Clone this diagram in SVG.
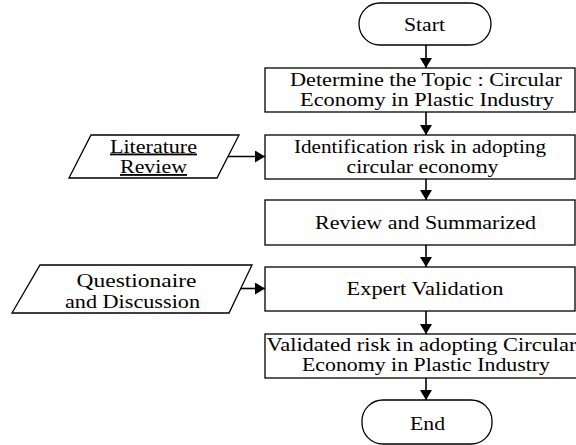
<svg xmlns="http://www.w3.org/2000/svg" width="576" height="445" viewBox="0 0 576 445">
<defs>
<style>
.shape{fill:#fff;stroke:#000;stroke-width:1.3}
.t{font-family:"Liberation Serif","Times New Roman",serif;font-size:18.5px;fill:#000;text-anchor:middle}
.u{text-decoration:underline}
.conn{stroke:#000;stroke-width:1.6;fill:none}
</style>
<marker id="ah" markerUnits="userSpaceOnUse" markerWidth="12" markerHeight="12" refX="10" refY="6" orient="auto">
<path d="M0,0 L10,6 L0,12 Z" fill="#000"/>
</marker>
</defs>
<rect width="576" height="445" fill="#fff"/>
<g id="connectors">
<line class="conn" x1="426" y1="45" x2="426" y2="68" marker-end="url(#ah)"/>
<line class="conn" x1="426" y1="112" x2="426" y2="135" marker-end="url(#ah)"/>
<line class="conn" x1="426" y1="179" x2="426" y2="200" marker-end="url(#ah)"/>
<line class="conn" x1="426" y1="245" x2="426" y2="267" marker-end="url(#ah)"/>
<line class="conn" x1="426" y1="311" x2="426" y2="334" marker-end="url(#ah)"/>
<line class="conn" x1="426" y1="378" x2="426" y2="400" marker-end="url(#ah)"/>
<line class="conn" x1="228" y1="156.5" x2="265" y2="156.5" marker-end="url(#ah)"/>
<line class="conn" x1="240" y1="288.5" x2="265" y2="288.5" marker-end="url(#ah)"/>
</g>
<g id="start">
<rect class="shape" x="359" y="3" width="132" height="42" rx="21" ry="21"/>
<text class="t" x="424.5" y="31" textLength="41" lengthAdjust="spacingAndGlyphs">Start</text>
</g>
<g id="topic">
<rect class="shape" x="265" y="68" width="310" height="44"/>
<text class="t" x="426" y="85.5" textLength="272" lengthAdjust="spacingAndGlyphs">Determine the Topic : Circular</text>
<text class="t" x="427" y="106" textLength="254" lengthAdjust="spacingAndGlyphs">Economy in Plastic Industry</text>
</g>
<g id="identification">
<rect class="shape" x="265" y="135" width="310" height="44"/>
<text class="t" x="420" y="152.5" textLength="252" lengthAdjust="spacingAndGlyphs">Identification risk in adopting</text>
<text class="t" x="422.5" y="173" textLength="152" lengthAdjust="spacingAndGlyphs">circular economy</text>
</g>
<g id="review">
<rect class="shape" x="265" y="200" width="310" height="45"/>
<text class="t" x="425.5" y="228.5" textLength="221" lengthAdjust="spacingAndGlyphs">Review and Summarized</text>
</g>
<g id="expert">
<rect class="shape" x="265" y="267" width="310" height="44"/>
<text class="t" x="425" y="295" textLength="157" lengthAdjust="spacingAndGlyphs">Expert Validation</text>
</g>
<g id="validated">
<rect class="shape" x="265" y="334" width="320" height="44"/>
<text class="t" x="421.5" y="350.5" textLength="310" lengthAdjust="spacingAndGlyphs">Validated risk in adopting Circular</text>
<text class="t" x="426" y="371" textLength="248" lengthAdjust="spacingAndGlyphs">Economy in Plastic Industry</text>
</g>
<g id="end">
<rect class="shape" x="362" y="400" width="130" height="44" rx="21" ry="21"/>
<text class="t" x="427.5" y="430" textLength="35" lengthAdjust="spacingAndGlyphs">End</text>
</g>
<g id="literature">
<polygon class="shape" points="91,135 239,135 217,178 69,178"/>
<text class="t u" x="153.5" y="152.5" textLength="87" lengthAdjust="spacingAndGlyphs">Literature</text>
<text class="t u" x="153.5" y="173" textLength="67" lengthAdjust="spacingAndGlyphs">Review</text>
</g>
<g id="questionaire">
<polygon class="shape" points="40,265 252,265 229,313 12,313"/>
<text class="t" x="136.5" y="286.5" textLength="120" lengthAdjust="spacingAndGlyphs">Questionaire</text>
<text class="t" x="132.5" y="307.5" textLength="135" lengthAdjust="spacingAndGlyphs">and Discussion</text>
</g>
</svg>
